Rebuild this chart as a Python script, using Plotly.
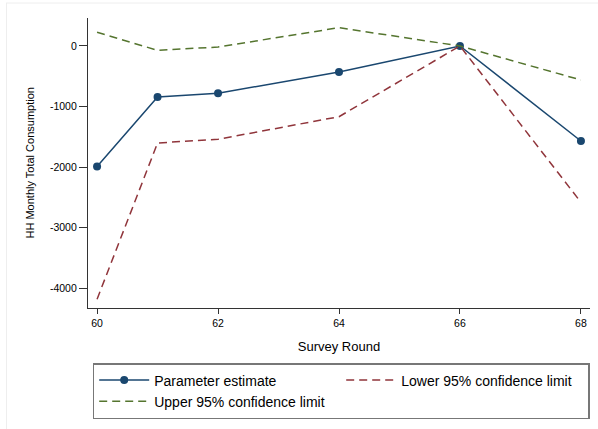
import plotly.graph_objects as go

rounds = [60, 61, 62, 64, 66, 68]
estimate = [-1990, -842, -781, -429, 0, -1568]
lower = [-4180, -1601, -1540, -1167, 0, -2580]
upper = [226, -71, -17, 302, 0, -561]
xticks = [60, 62, 64, 66, 68]
yticks = [0, -1000, -2000, -3000, -4000]
ytext = ["0", "-1000", "-2000", "-3000", "-4000"]

W, H = 598, 429
ml, mr, mt, mb = 88, 8, 18, 121
pw, ph = W - ml - mr, H - mt - mb

fig = go.Figure()
fig.add_trace(go.Scatter(x=rounds, y=estimate, mode="lines+markers", name="Parameter estimate",
                         line=dict(color="#1a476f", width=1.5), marker=dict(size=8, color="#1a476f")))
fig.add_trace(go.Scatter(x=rounds, y=lower, mode="lines", name="Lower 95% confidence limit",
                         line=dict(color="#90353b", width=1.5, dash="8px,5px")))
fig.add_trace(go.Scatter(x=rounds, y=upper, mode="lines", name="Upper 95% confidence limit",
                         line=dict(color="#55752f", width=1.5, dash="8px,5px")))

font = "Liberation Sans, Arial, Helvetica, sans-serif"
fig.update_layout(
    width=W, height=H,
    margin=dict(l=ml, r=mr, t=mt, b=mb, pad=0),
    paper_bgcolor="white", plot_bgcolor="white",
    font=dict(family=font, size=11, color="black"),
    xaxis=dict(range=[59.85, 68.15], tickvals=xticks, ticks="outside", ticklen=5, tickwidth=1,
               tickcolor="#333", showline=True, linecolor="#333", linewidth=1.2, showgrid=False,
               zeroline=False, title=dict(text="Survey Round", standoff=14), tickfont=dict(size=10.5)),
    yaxis=dict(range=[-4325, 462], tickvals=yticks, ticktext=ytext, ticks="outside", ticklen=8, tickwidth=1,
               tickcolor="#333", showline=True, linecolor="#333", linewidth=1.2, showgrid=False,
               zeroline=False, tickfont=dict(size=10.5)),
    annotations=[dict(text="HH Monthly Total Consumption", xref="paper", yref="paper",
                      x=(29.5 - ml) / pw, y=0.5, xanchor="center", yanchor="middle",
                      textangle=-90, showarrow=False, font=dict(size=11))],
    legend=dict(orientation="h", x=(92.7 - ml) / pw, y=(mt + ph - 363) / ph, xanchor="left", yanchor="top",
                bordercolor="#777", borderwidth=1.5, font=dict(size=14), itemwidth=50,
                entrywidth=182, traceorder="normal", bgcolor="white"),
    showlegend=True,
    shapes=[
        dict(type="line", xref="paper", yref="paper", x0=(6 - ml) / pw, x1=(W - ml) / pw,
             y0=(mt + ph - 3) / ph, y1=(mt + ph - 3) / ph, line=dict(color="#eeeeee", width=1)),
        dict(type="line", xref="paper", yref="paper", x0=(6.5 - ml) / pw, x1=(6.5 - ml) / pw,
             y0=(mt + ph - 3) / ph, y1=(mt + ph - H) / ph, line=dict(color="#eeeeee", width=1)),
    ],
)
fig.write_html("out.html", config={"displayModeBar": False},
               post_script="document.body.style.margin='0';document.body.style.overflow='hidden';")
